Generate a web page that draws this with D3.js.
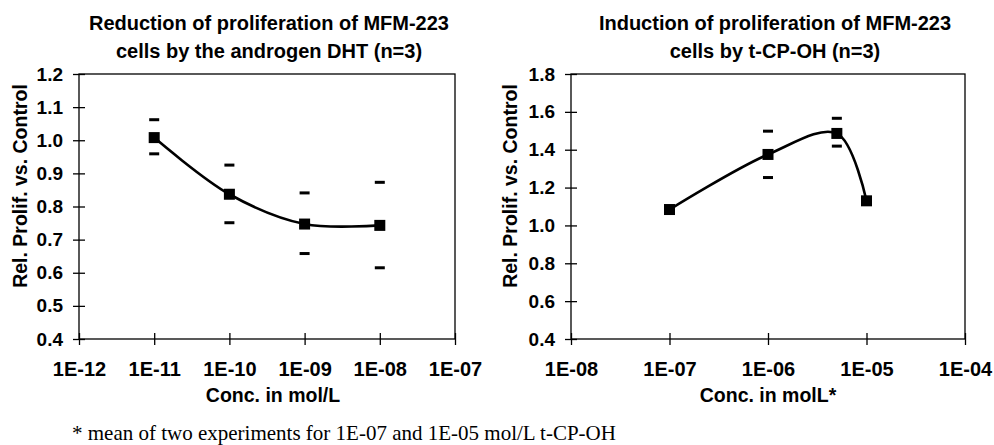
<!DOCTYPE html>
<html lang="en">
<head>
<meta charset="UTF-8">
<title>MFM-223 proliferation</title>
<script src="https://d3js.org/d3.v7.min.js"></script>
<style>
  body { margin: 0; background: #fff; }
  .title { font-family: "Liberation Sans", Arial, sans-serif; font-weight: bold; font-size: 20px; text-anchor: middle; }
  .tick text { font-family: "Liberation Sans", Arial, sans-serif; font-weight: bold; font-size: 19px; fill: #000; }
  .x-axis .tick text { font-size: 20px; }
  .axis-title { font-family: "Liberation Sans", Arial, sans-serif; font-weight: bold; font-size: 19.5px; text-anchor: middle; }
  .note { font-family: "Liberation Serif", "Times New Roman", serif; font-size: 21px; }
</style>
</head>
<body>
<div id="chart"></div>
<script>
// left panel: DHT
const dhtConc  = [1e-11, 1e-10, 1e-9, 1e-8];
const dhtMean  = [1.008, 0.837, 0.747, 0.743];
const dhtUpper = [1.062, 0.925, 0.841, 0.873];
const dhtLower = [0.959, 0.751, 0.658, 0.615];
const dhtXTicks = [1e-12, 1e-11, 1e-10, 1e-9, 1e-8, 1e-7];
const dhtYTicks = [0.4, 0.5, 0.6, 0.7, 0.8, 0.9, 1.0, 1.1, 1.2];

// right panel: t-CP-OH
const cpConc  = [1e-7, 1e-6, 5e-6, 1e-5];
const cpMean  = [1.084, 1.375, 1.486, 1.130];
const cpUpper = [null, 1.498, 1.566, null];
const cpLower = [null, 1.253, 1.419, null];
const cpXTicks = [1e-8, 1e-7, 1e-6, 1e-5, 1e-4];
const cpYTicks = [0.4, 0.6, 0.8, 1.0, 1.2, 1.4, 1.6, 1.8];

const svg = d3.select("#chart").append("svg")
  .attr("width", 994).attr("height", 445);

const sciFmt = d => "1E-" + String(Math.round(-Math.log10(d))).padStart(2, "0");

function drawPanel(p) {
  const x = d3.scaleLog().domain(p.xDomain).range([p.left, p.right]);
  const y = d3.scaleLinear().domain(p.yDomain).range([p.bottom, p.top]);
  const g = svg.append("g");

  // titles
  p.title.forEach((t, i) => {
    g.append("text").attr("class", "title")
      .attr("x", p.titleX).attr("y", 30 + i * 28).text(t);
  });

  // box
  g.append("rect")
    .attr("x", p.left).attr("y", p.top)
    .attr("width", p.right - p.left).attr("height", p.bottom - p.top)
    .attr("fill", "none").attr("stroke", "#000").attr("stroke-width", 1.3);

  // axes with ticks crossing the line
  const yAxis = g.append("g").attr("transform", `translate(${p.left},0)`)
    .call(d3.axisLeft(y).tickValues(p.yTicks).tickFormat(d3.format(".1f")).tickSize(6).tickPadding(10));
  yAxis.select(".domain").remove();
  yAxis.selectAll(".tick line").attr("x1", 6).attr("stroke-width", 1.3);

  const xAxis = g.append("g").attr("class", "x-axis").attr("transform", `translate(0,${p.bottom})`)
    .call(d3.axisBottom(x).tickValues(p.xTicks).tickFormat(sciFmt).tickSize(6).tickPadding(17));
  xAxis.select(".domain").remove();
  xAxis.selectAll(".tick line").attr("y1", -6).attr("stroke-width", 1.3);

  g.append("text").attr("class", "axis-title")
    .attr("x", (p.left + p.right) / 2 + p.xTitleShift).attr("y", 402).text(p.xTitle);
  g.append("text").attr("class", "axis-title")
    .attr("transform", `translate(${p.yTitleX},${p.yTitleY}) rotate(-90)`)
    .text("Rel. Prolif. vs. Control");

  const pts = p.conc.map((c, i) => ({ c, m: p.mean[i], u: p.upper[i], l: p.lower[i] }));

  // smoothed line
  g.append("path")
    .datum(pts)
    .attr("fill", "none").attr("stroke", "#000").attr("stroke-width", 2.6)
    .attr("d", d3.line().x(d => x(d.c)).y(d => y(d.m)).curve(d3.curveCatmullRom.alpha(0.5)));

  // error dashes
  const dashes = [];
  pts.forEach(d => {
    if (d.u != null) dashes.push({ c: d.c, v: d.u });
    if (d.l != null) dashes.push({ c: d.c, v: d.l });
  });
  g.selectAll(".dash").data(dashes).enter().append("rect")
    .attr("x", d => x(d.c) - 5).attr("y", d => y(d.v) - 1.5)
    .attr("width", 10).attr("height", 3).attr("fill", "#000");

  // markers
  g.selectAll(".mk").data(pts).enter().append("rect")
    .attr("x", d => x(d.c) - 5.5).attr("y", d => y(d.m) - 5.5)
    .attr("width", 11).attr("height", 11).attr("fill", "#000");
}

drawPanel({
  left: 79, right: 455, top: 74, bottom: 339,
  xDomain: [1e-12, 1e-7], yDomain: [0.4, 1.2],
  xTicks: dhtXTicks, yTicks: dhtYTicks,
  title: ["Reduction of proliferation of MFM-223", "cells by the androgen DHT (n=3)"],
  titleX: 269, xTitle: "Conc. in mol/L", xTitleShift: 6,
  yTitleX: 27, yTitleY: 186,
  conc: dhtConc, mean: dhtMean, upper: dhtUpper, lower: dhtLower
});

drawPanel({
  left: 571, right: 965, top: 74, bottom: 339,
  xDomain: [1e-8, 1e-4], yDomain: [0.4, 1.8],
  xTicks: cpXTicks, yTicks: cpYTicks,
  title: ["Induction of proliferation of MFM-223", "cells by t-CP-OH (n=3)"],
  titleX: 775, xTitle: "Conc. in molL*", xTitleShift: 0,
  yTitleX: 517, yTitleY: 186,
  conc: cpConc, mean: cpMean, upper: cpUpper, lower: cpLower
});

svg.append("text").attr("class", "note")
  .attr("x", 72).attr("y", 440)
  .text("* mean of two experiments for 1E-07 and 1E-05 mol/L t-CP-OH");
</script>
</body>
</html>
